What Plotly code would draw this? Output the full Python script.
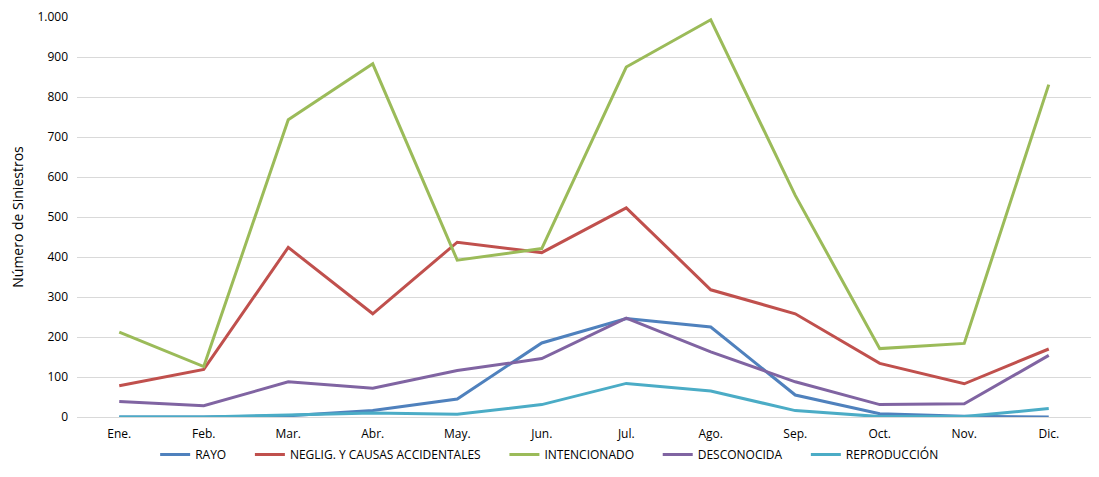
import plotly.graph_objects as go

meses = ["Ene.", "Feb.", "Mar.", "Abr.", "May.", "Jun.", "Jul.", "Ago.", "Sep.", "Oct.", "Nov.", "Dic."]

rayo = [0, 0, 3, 16, 45, 185, 246, 225, 55, 8, 2, 0]
neglig = [78, 119, 424, 258, 437, 411, 523, 318, 258, 134, 83, 170]
intencionado = [212, 126, 743, 883, 392, 421, 875, 993, 554, 171, 184, 831]
desconocida = [39, 28, 88, 72, 116, 146, 247, 163, 88, 31, 33, 154]
reproduccion = [0, 0, 5, 10, 7, 31, 84, 65, 16, 1, 1, 21]

series = [
    ("RAYO", rayo, "#4F81BD"),
    ("NEGLIG. Y CAUSAS ACCIDENTALES", neglig, "#C0504D"),
    ("INTENCIONADO", intencionado, "#9BBB59"),
    ("DESCONOCIDA", desconocida, "#8064A2"),
    ("REPRODUCCIÓN", reproduccion, "#4BACC6"),
]

fig = go.Figure()
for name, vals, color in series:
    # padding at the end of the name spreads legend items like the original
    fig.add_trace(go.Scatter(x=meses, y=vals, name=name + "      ", mode="lines",
                             line=dict(color=color, width=3)))

# figure + 8px page margin fits the 1099x477 window exactly
fig.update_layout(
    width=1083, height=461,
    margin=dict(l=69, r=0, t=9, b=52, autoexpand=False),
    plot_bgcolor="white", paper_bgcolor="white",
    font=dict(family="Open Sans", size=12, color="#000000"),
    separators=",.",
    showlegend=True,
    legend=dict(orientation="h", x=0.475, xanchor="center",
                yref="container", y=0, yanchor="bottom",
                bgcolor="rgba(0,0,0,0)",
                font=dict(size=12), itemwidth=30, traceorder="normal"),
    xaxis=dict(range=[-0.5, 11.5], showgrid=False, showline=False, ticks="",
               tickfont=dict(size=12), ticklabelstandoff=8, automargin=False),
    yaxis=dict(range=[0, 1000], dtick=100, tickformat=",", showgrid=True,
               gridcolor="#D9D9D9", gridwidth=1, zeroline=True, zerolinecolor="#D9D9D9",
               zerolinewidth=1, ticks="", ticklabelstandoff=8, ticklabeloverflow="allow",
               automargin=False,
               title=dict(text="Número de Siniestros", font=dict(size=14), standoff=18)),
)

fig.write_html("out.html")
